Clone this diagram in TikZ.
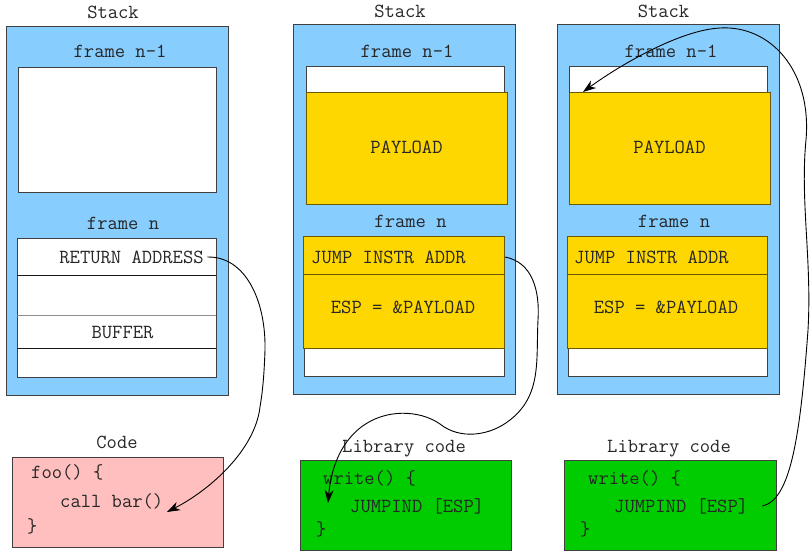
\documentclass[tikz,border=0pt]{standalone}
\usepackage{fontspec}
\usetikzlibrary{arrows.meta}
\definecolor{stackblue}{RGB}{135,206,255}
\definecolor{payloadyellow}{RGB}{255,215,0}
\definecolor{payloadedge}{RGB}{105,88,0}
\definecolor{codepink}{RGB}{255,191,191}
\definecolor{libgreen}{RGB}{0,204,0}
\begin{document}
\begin{tikzpicture}[x=1pt,y=-1pt,font=\ttfamily\fontsize{20}{24}\selectfont]
        \tikzstyle{box}=[draw=black!75,line width=1pt,inner sep=0pt,outer sep=0pt,anchor=north west]
        \tikzstyle{stack}=[box,fill=stackblue]
        \tikzstyle{slot}=[box,fill=white]
        \tikzstyle{payload}=[box,draw=payloadedge,fill=payloadyellow]
        \tikzstyle{code}=[box,fill=codepink]
        \tikzstyle{lib}=[box,fill=libgreen]
        \tikzstyle{txt}=[inner sep=0pt,anchor=mid,yshift=-3pt,text=black!85]
        \tikzstyle{ltxt}=[inner sep=0pt,anchor=mid west,yshift=-3pt,text=black!85]
        \tikzstyle{jump}=[draw,line width=0.9pt,-{Stealth[length=13pt,width=9pt,inset=4pt]}]
        \useasboundingbox (0,0) rectangle (812,552);
       % normal stack
       \begin{scope}
         \node [txt] (title1) at (113,13) {Stack};
         \node [stack,minimum width=222,minimum height=369] (st1) at (6,26) {};
         \node [txt] (fn1a) at (120,52) {frame n-1};
         \node [slot,minimum width=198,minimum height=125] (slot1) at (18,67) {};
         \node [txt] (fn1b) at (123,224) {frame n};
         \node [slot,minimum width=199,minimum height=139] (frame1) at (17,238) {};
         \draw [line width=1pt,black!90] (frame1.north west) ++(0,37) -- ++(199,0);
         \draw [line width=1pt,black!45] (frame1.north west) ++(0,77) -- ++(199,0);
         \draw [line width=1pt,black!90] (frame1.north west) ++(0,110) -- ++(199,0);
         \node [txt,inner sep=1.5pt] (ret) at (131.5,258) {RETURN ADDRESS};
         \node [txt] (buf) at (122.5,333) {BUFFER};
        \end{scope}
       % overwritten stack
       \begin{scope}
         \node [txt] (title2) at (400,12) {Stack};
         \node [stack,minimum width=222,minimum height=370] (st2) at (293,24) {};
         \node [txt] (fn2a) at (407,52) {frame n-1};
         \node [slot,minimum width=198,minimum height=126] (slot2a) at (306,66) {};
         \node [payload,minimum width=201,minimum height=112] (pay2) at (306,92) {};
         \node [txt] at (pay2.center) {PAYLOAD};
         \node [txt] (fn2b) at (410.5,222) {frame n};
         \node [slot,minimum width=200,minimum height=140] (slot2b) at (304,236) {};
         \node [payload,minimum width=201,minimum height=112] (frame2) at (303,236) {};
         \draw [line width=1pt,payloadedge] (frame2.north west) ++(0,38) -- ++(201,0);
         \node [ltxt] (jmp2) at (311,258) {JUMP INSTR ADDR};
         \node [txt] (esp2) at (403,308) {ESP = \&PAYLOAD};
        \end{scope}
       \begin{scope}
         \node [txt] (title3) at (663.5,12) {Stack};
         \node [stack,minimum width=222,minimum height=370] (st3) at (557,24) {};
         \node [txt] (fn3a) at (671,52) {frame n-1};
         \node [slot,minimum width=198,minimum height=126] (slot3a) at (569,66) {};
         \node [payload,minimum width=201,minimum height=112] (pay3) at (569,92) {};
         \node [txt] at (pay3.center) {PAYLOAD};
         \node [txt] (fn3b) at (674,222) {frame n};
         \node [slot,minimum width=199,minimum height=140] (slot3b) at (568,236) {};
         \node [payload,minimum width=200,minimum height=112] (frame3) at (567,236) {};
         \draw [line width=1pt,payloadedge] (frame3.north west) ++(0,38) -- ++(200,0);
         \node [ltxt] (jmp3) at (574,258) {JUMP INSTR ADDR};
         \node [txt] (esp3) at (666,308) {ESP = \&PAYLOAD};
        \end{scope}
       % code boxes
       \node [txt] (codetitle) at (117,443) {Code};
       \node [code,minimum width=211,minimum height=90] (code) at (12,457) {};
       \node [ltxt] (foo) at (31,473) {foo() \{};
       \node [ltxt] (call) at (60,502) {call bar()};
       \node [ltxt] (fooend) at (27,527) {\}};
       \node [txt] (libtitle1) at (404,447) {Library code};
       \node [lib,minimum width=211,minimum height=90] (lib1) at (300,460) {};
       \node [ltxt] (write1) at (323,479) {write() \{};
       \node [ltxt] (jind1) at (350,507) {JUMPIND [ESP]};
       \node [ltxt] (writeend1) at (316,530) {\}};
       \node [txt] (libtitle2) at (669,447) {Library code};
       \node [lib,minimum width=212,minimum height=90] (lib2) at (564,460) {};
       \node [ltxt] (write2) at (588,479) {write() \{};
       \node [ltxt] (jind2) at (614,507) {JUMPIND [ESP]};
       \node [ltxt] (writeend2) at (580,530) {\}};
       % jumps
       \coordinate (callend) at (167,512);
       \coordinate (writeto) at (328,503);
       \coordinate (payto) at (583,92);
       \path[jump] ([xshift=2pt]ret.east) .. controls (245,256) and (266,300) .. (265,350)
         .. controls (264,380) and (262,395) .. (260,407)
         .. controls (255,450) and (210,490) .. (callend);
       \path[jump] ([xshift=1pt]jmp2.east -| frame2.east) .. controls (532,262) and (540,290) .. (538,320)
         .. controls (536,360) and (542,395) .. (510,420)
         .. controls (490,436) and (460,440) .. (440,424)
         .. controls (420,410) and (385,408) .. (360,428)
         .. controls (335,448) and (330,480) .. (writeto);
       \path[jump] ([xshift=14pt]jind2.east) .. controls (790,500) and (800,440) .. (808,330)
         .. controls (812,260) and (800,200) .. (806,140)
         .. controls (812,70) and (770,25) .. (720,28)
         .. controls (680,30) and (620,65) .. (payto);
      \end{tikzpicture}
\end{document}
